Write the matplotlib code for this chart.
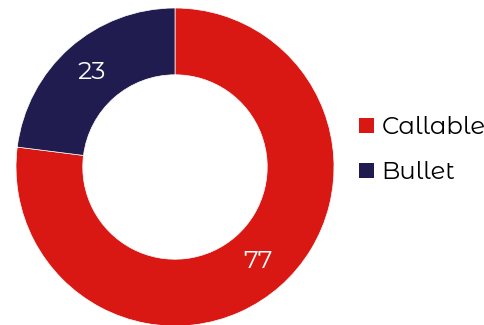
import matplotlib.pyplot as plt
from matplotlib.patches import Patch

# data
labels = ["Callable", "Bullet"]
values = [77, 23]
colors = ["#D91814", "#201C4F"]

plt.rcParams['font.family'] = ['Montserrat Alternates', 'DejaVu Sans']

fig = plt.figure(figsize=(4.85, 3.25), dpi=100)
# pie centre ~ (175, 167) px, outer radius ~159 px
ax = fig.add_axes([16 / 485, (158 - 159) / 325, 318 / 485, 318 / 325])

wedges, texts, autotexts = ax.pie(
    values, colors=colors, startangle=90, counterclock=False,
    radius=1.0, autopct=lambda p: f"{round(p)}", pctdistance=0.79,
    wedgeprops=dict(width=0.42, edgecolor="white", linewidth=0.5),
    textprops=dict(color="white", fontsize=18, weight=400),
)
ax.set_xlim(-1, 1)
ax.set_ylim(-1, 1)
ax.set_aspect("equal")
ax.axis("off")

handles = [Patch(facecolor=c, label=l) for c, l in zip(colors, labels)]
leg = fig.legend(handles=handles, loc="center left", bbox_to_anchor=(359 / 485, 1 - 150 / 325),
                 frameon=False, prop=dict(size=17.5, weight=400), handlelength=0.62,
                 handleheight=0.62, handletextpad=0.3, labelspacing=0.9, borderaxespad=0,
                 borderpad=0)

fig.savefig("out.png", dpi=100)
